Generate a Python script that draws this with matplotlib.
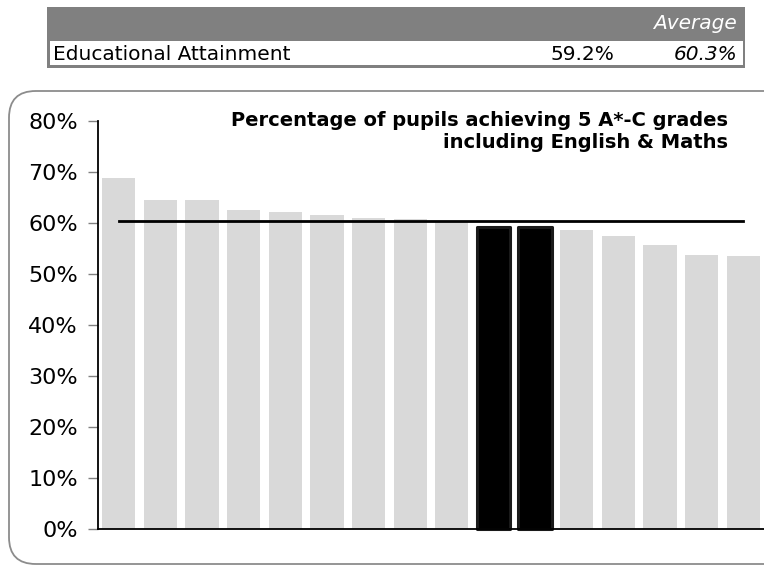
import matplotlib.pyplot as plt
from matplotlib.patches import FancyBboxPatch, Rectangle

# data
values = [68.9, 64.6, 64.6, 62.5, 62.2, 61.6, 61.0, 60.8, 60.1,
          59.2, 59.2, 58.6, 57.5, 55.7, 53.7, 53.5]
highlight = [9, 10]
average = 60.3
y_ticks = [0, 10, 20, 30, 40, 50, 60, 70, 80]
row_label = "Educational Attainment"
row_value = "59.2%"
row_average = "60.3%"
title = "Percentage of pupils achieving 5 A*-C grades\nincluding English & Maths"

plt.rcParams["font.family"] = ["DejaVu Sans"]

W, H = 764, 565
fig = plt.figure(figsize=(W / 100, H / 100), dpi=100)


def fx(px):
    return px / W


def fy(py):
    return 1 - py / H


# header table
fig.patches.append(Rectangle((fx(47), fy(68)), fx(745) - fx(47), fy(7) - fy(68),
                             transform=fig.transFigure, facecolor="#808080",
                             edgecolor="none", zorder=0))
fig.patches.append(Rectangle((fx(50), fy(65)), fx(743) - fx(50), fy(41) - fy(65),
                             transform=fig.transFigure, facecolor="white",
                             edgecolor="none", zorder=1))
fig.text(fx(737), fy(29), "Average", color="white", style="italic",
         fontsize=14.5, ha="right", va="baseline")
fig.text(fx(53), fy(60), row_label, fontsize=14.5, ha="left", va="baseline")
fig.text(fx(614), fy(60), row_value, fontsize=14.5, ha="right", va="baseline")
fig.text(fx(737), fy(60), row_average, fontsize=14.5, style="italic",
         ha="right", va="baseline")

# rounded frame round the chart
fig.patches.append(FancyBboxPatch((fx(9), fy(564)), fx(800) - fx(9), fy(91) - fy(564),
                                  boxstyle="round,pad=0,rounding_size=0.035",
                                  transform=fig.transFigure, facecolor="none",
                                  edgecolor="#8c8c8c", linewidth=1.3,
                                  mutation_aspect=W / H, zorder=0))

ax = fig.add_axes([fx(98), fy(529), 1 - fx(98), fy(121) - fy(529)])
ax.patch.set_alpha(0)

x = list(range(len(values)))
grey = [v for i, v in enumerate(values) if i not in highlight]
gx = [i for i in x if i not in highlight]
ax.bar(gx, grey, width=0.8, color="#d9d9d9", zorder=1)
hx = [i for i in highlight]
hv = [values[i] for i in highlight]
ax.bar(hx, hv, width=0.8, color="black", edgecolor="#1a1a1a",
       linewidth=2.2, joinstyle="round", zorder=2, clip_on=False)

ax.plot([0, len(values) - 1], [average, average], color="black", lw=2, zorder=3)

ax.set_xlim(-0.5, len(values) - 0.5)
ax.set_ylim(0, 80)
ax.set_yticks(y_ticks)
ax.set_yticklabels([f"{t}%" for t in y_ticks], fontsize=16)
ax.set_xticks([])
ax.tick_params(axis="y", length=7, width=1, color="#808080", pad=7.5)
for s in ["top", "right"]:
    ax.spines[s].set_visible(False)
ax.spines["left"].set_linewidth(1.3)
ax.spines["bottom"].set_linewidth(1.3)
ax.spines["bottom"].set_zorder(4)

fig.text(fx(728), fy(148), title, fontsize=14, fontweight="bold",
         ha="right", va="baseline", multialignment="right", linespacing=1.2)

fig.savefig("out.png", dpi=100)
